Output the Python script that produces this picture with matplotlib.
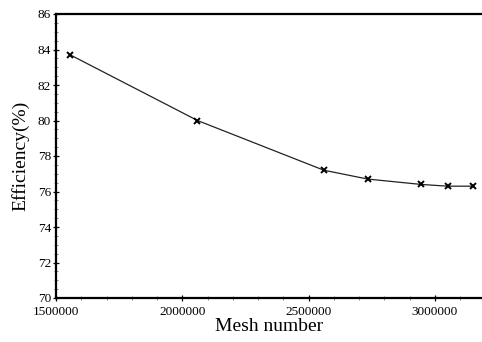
import matplotlib
matplotlib.use("Agg")
import matplotlib.pyplot as plt
from matplotlib.ticker import MultipleLocator

# mesh independence data
mesh_number = [1556000, 2060000, 2560000, 2734000, 2944000, 3050000, 3150000]
efficiency = [83.7, 80.0, 77.2, 76.7, 76.4, 76.3, 76.3]

x_ticks = [1500000, 2000000, 2500000, 3000000]
x_labels = ["1500000", "2000000", "2500000", "3000000"]
y_ticks = [70, 72, 74, 76, 78, 80, 82, 84, 86]

plt.rcParams['font.family'] = ['Liberation Serif', 'DejaVu Serif']

fig = plt.figure(figsize=(4.82, 3.42), dpi=100)
ax = fig.add_axes([56 / 482, 44 / 342, 1 - 56 / 482 + 0.002, 284 / 342])

ax.plot(mesh_number, efficiency, color='#222222', linewidth=0.9,
        marker='x', markersize=5, markeredgewidth=1.4, markeredgecolor='black')

ax.set_xlim(1500000, 3190000)
ax.set_ylim(70, 86)
ax.set_xticks(x_ticks)
ax.set_xticklabels(x_labels)
ax.set_yticks(y_ticks)
ax.xaxis.set_minor_locator(MultipleLocator(100000))
ax.yaxis.set_minor_locator(MultipleLocator(0.5))

ax.tick_params(which='major', direction='inout', length=5, width=0.9, labelsize=9.5)
ax.tick_params(axis='x', which='major', pad=3.5)
ax.tick_params(axis='y', which='major', pad=1)
ax.tick_params(which='minor', direction='inout', length=3, width=0.5, color='#555555')

ax.spines['right'].set_visible(False)
for s in ['left', 'bottom', 'top']:
    ax.spines[s].set_linewidth(1.6)

ax.set_xlabel("Mesh number", fontsize=14, labelpad=0)
ax.set_ylabel("Efficiency(%)", fontsize=14, labelpad=6)

fig.savefig("out.png", dpi=100)
